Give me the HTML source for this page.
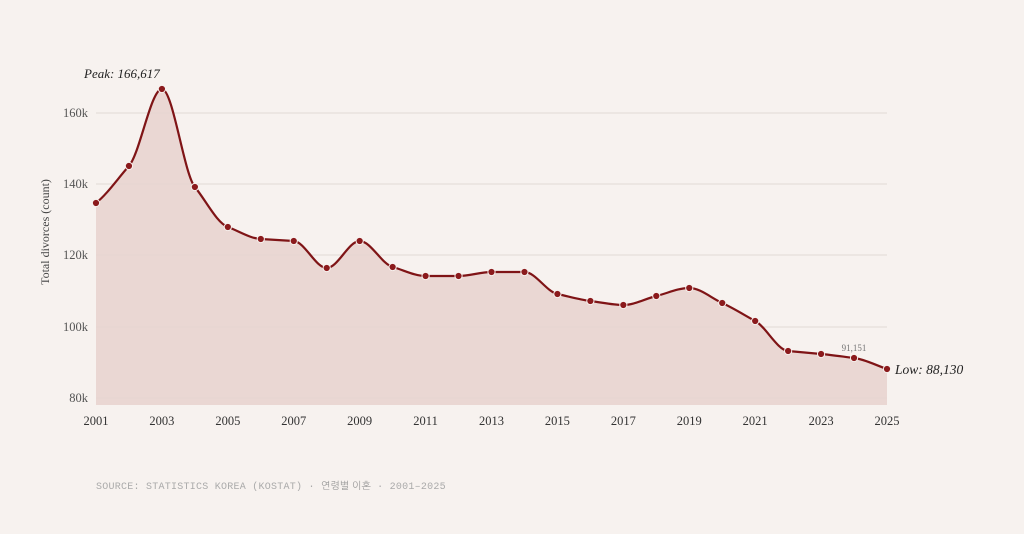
<!DOCTYPE html>
<html><head><meta charset="utf-8"><style>
body{margin:0;background:#f7f2ef;}
svg{display:block}
text{font-family:"Liberation Serif",serif;}
</style></head><body>
<svg id="s" width="1024" height="534" xmlns="http://www.w3.org/2000/svg">
<rect width="1024" height="534" fill="#f7f2ef"/>
<g stroke="#e2d9d5" stroke-width="1">
<line x1="96" x2="887" y1="113" y2="113"/><line x1="96" x2="887" y1="184" y2="184"/>
<line x1="96" x2="887" y1="255" y2="255"/><line x1="96" x2="887" y1="327" y2="327"/>
<line x1="96" x2="887" y1="398" y2="398"/>
</g>
<path id="area" fill="#e8d4cf" fill-opacity="0.9"/>
<path id="line" fill="none" stroke="#7f1416" stroke-width="2.2"/>
<g id="dots"></g>
<g font-size="12.5" fill="#555" text-anchor="end">
<text x="88" y="117">160k</text><text x="88" y="188">140k</text><text x="88" y="259">120k</text><text x="88" y="331">100k</text><text x="88" y="402">80k</text>
</g>
<g id="xl" font-size="12.5" fill="#333" text-anchor="middle"></g>
<text transform="translate(49,232) rotate(-90)" font-size="12" fill="#444" text-anchor="middle">Total divorces (count)</text>
<text x="84" y="78" font-size="13" font-style="italic" fill="#222">Peak: 166,617</text>
<text x="895" y="374" font-size="13.5" font-style="italic" fill="#222">Low: 88,130</text>
<text x="854" y="351" font-size="9" fill="#777" text-anchor="middle">91,151</text>
<text x="96" y="489" font-size="10" fill="#aaa" letter-spacing="0.25" style="font-family:'Liberation Mono','NanumGothic',monospace">SOURCE: STATISTICS KOREA (KOSTAT) · <tspan fill="#999" style="font-family:'NanumGothic',sans-serif" letter-spacing="0">연령별 이혼</tspan> · 2001–2025</text>
</svg>
<script>
var ys=[203,166,89,187,227,239,241,268,241,267,276,276,272,272,294,301,305,296,288,303,321,351,354,358,369];
var x0=96,dx=791/24,pts=ys.map((y,i)=>[x0+i*dx,y]);
var n=pts.length,m=[],d=[];
for(var i=0;i<n-1;i++)d.push((pts[i+1][1]-pts[i][1])/dx);
for(var i=0;i<n;i++){
 if(i==0)m.push(d[0]*0.7);else if(i==n-1)m.push(d[n-2]);
 else{var a=d[i-1],b=d[i];m.push(a*b<=0?0:(Math.sign(a)*Math.min(Math.abs(a),Math.abs(b),0.5*Math.abs(a+b))));}
}
var p="M"+pts[0];
for(var i=0;i<n-1;i++){var h=dx/3;
 p+="C"+(pts[i][0]+h)+","+(pts[i][1]+m[i]*h)+" "+(pts[i+1][0]-h)+","+(pts[i+1][1]-m[i+1]*h)+" "+pts[i+1];}
document.getElementById('line').setAttribute('d',p);
document.getElementById('area').setAttribute('d',p+"L887,405L96,405Z");
var g=document.getElementById('dots'),s="";
pts.forEach(q=>s+='<circle cx="'+q[0]+'" cy="'+q[1]+'" r="3.6" fill="#8b1a1c" stroke="#f7f2ef" stroke-width="1"/>');
g.innerHTML=s;
var xl="";for(var y=2001;y<=2025;y+=2)xl+='<text x="'+(x0+(y-2001)*dx)+'" y="425">'+y+'</text>';
document.getElementById('xl').innerHTML=xl;
</script>
</body></html>
